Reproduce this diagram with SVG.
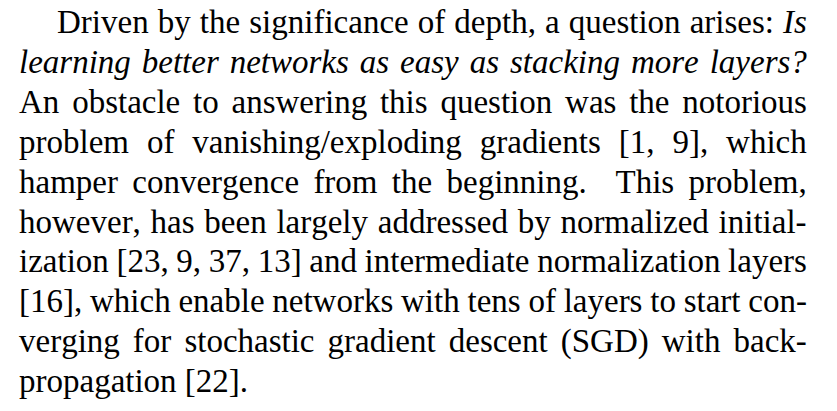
<svg xmlns="http://www.w3.org/2000/svg" width="837" height="411" viewBox="0 0 837 411">
<style>
.t{font-family:"Liberation Serif","Times New Roman",serif;font-size:33px;fill:#000;font-kerning:none}
.i{font-style:italic}
</style>
<rect width="837" height="411" fill="#fff"/>
<g id="paragraph">
<text class="t" x="57" y="33" word-spacing="0.85">Driven by the significance of depth, a question arises: <tspan class="i">Is</tspan></text>
<text class="t i" x="19" y="72.9" word-spacing="2.7">learning better networks as easy as stacking more layers?</text>
<text class="t" x="19" y="112.8" word-spacing="4.55">An obstacle to answering this question was the notorious</text>
<text class="t" x="19" y="152.7" word-spacing="9.7">problem of vanishing/exploding gradients [1, 9], which</text>
<text class="t" x="19" y="192.6" word-spacing="6.1">hamper convergence from the beginning. <tspan dx="14.4">This problem,</tspan></text>
<text class="t" x="19" y="232.5" word-spacing="1.5">however, has been largely addressed by normalized initial-</text>
<text class="t" x="19" y="272.4" word-spacing="-0.6">ization [23, 9, 37, 13] and intermediate normalization layers</text>
<text class="t" x="19" y="312.3" word-spacing="-0.48">[16], which enable networks with tens of layers to start con-</text>
<text class="t" x="19" y="352.2" word-spacing="4.8">verging for stochastic gradient descent (SGD) with back-</text>
<text class="t" x="19" y="392.1">propagation [22].</text>
</g>
</svg>
